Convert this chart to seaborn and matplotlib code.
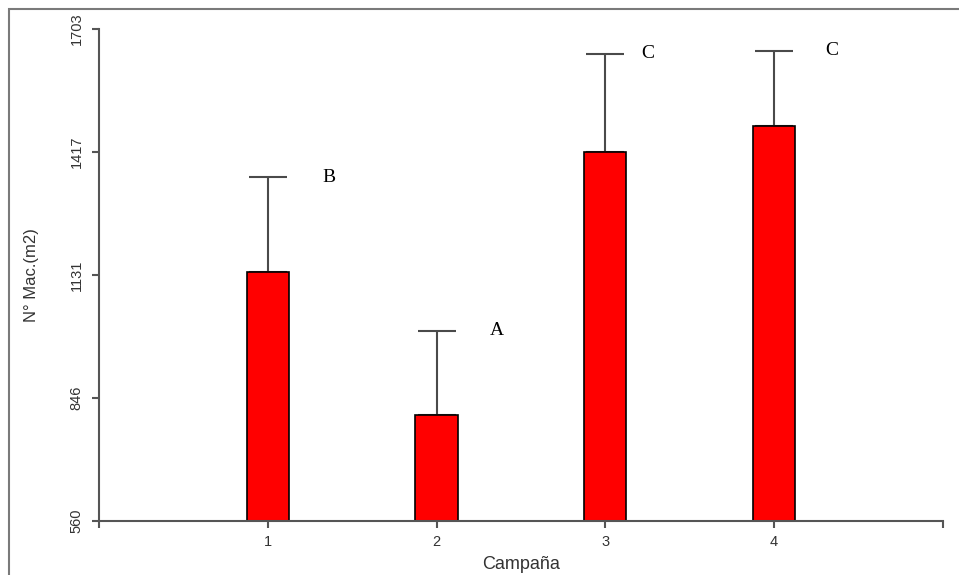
import matplotlib
matplotlib.use("Agg")
import matplotlib.pyplot as plt
import matplotlib.patches as mpatches
import seaborn as sns
import pandas as pd

campana = [1, 2, 3, 4]
media = [1138, 806, 1417, 1477]
error = [220, 196, 229, 175]
letras = ["B", "A", "C", "C"]
letra_x = [1.36, 2.36, 3.25, 4.34]
y_ticks = [560, 846, 1131, 1417, 1703]

sns.set_style("white")
plt.rcParams['font.family'] = ['Liberation Sans', 'DejaVu Sans']

df = pd.DataFrame({"Campaña": campana, "Mac": media})

fig = plt.figure(figsize=(9.59, 5.75), dpi=100)
ax = fig.add_axes([0.1032, 0.0939, 0.8801, 0.8557])

sns.barplot(data=df, x="Campaña", y="Mac", native_scale=True, width=0.25,
            color="#ff0000", saturation=1, edgecolor="black", linewidth=1.2,
            errorbar=None, ax=ax, zorder=2)
# only the upper half of the error bar: lower cap stays hidden behind the bar
ax.errorbar(campana, media, yerr=[[0] * 4, error], fmt="none",
            ecolor="#4a4a4a", elinewidth=1.5, capsize=13.5, capthick=1.5, zorder=1)

for x, y, e, t in zip(letra_x, media, error, letras):
    ax.text(x, y + e, t, ha="center", va="center", fontsize=14,
            family=["Liberation Serif", "DejaVu Serif"], color="black")

ax.set_xlim(0, 5)
ax.set_ylim(560, 1703)
ax.set_xticks([0, 1, 2, 3, 4, 5])
ax.set_xticklabels(["", "1", "2", "3", "4", ""])
ax.set_yticks(y_ticks)
ax.set_yticklabels([str(v) for v in y_ticks], rotation=90, va="center")

for side in ["top", "right"]:
    ax.spines[side].set_visible(False)
for side in ["left", "bottom"]:
    ax.spines[side].set_color("#555555")
    ax.spines[side].set_linewidth(1.5)

ax.tick_params(axis="both", length=5, width=1.5, color="#555555",
               labelsize=10.5, labelcolor="#333333", bottom=True, left=True)
ax.tick_params(axis="y", pad=6)
ax.tick_params(axis="x", pad=5)

ax.set_xlabel("Campaña", fontsize=13, color="#333333", labelpad=5)
ax.set_ylabel("N° Mac.(m2)", fontsize=12, color="#333333", labelpad=22)

# outer frame (only top and left edges visible)
fig.add_artist(mpatches.Rectangle((9 / 959, -0.5), 2, 0.5 + 1 - 9 / 575,
                                  transform=fig.transFigure, fill=False,
                                  edgecolor="#7a7a7a", linewidth=1.5))

fig.savefig("out.png", dpi=100)
plt.close(fig)
